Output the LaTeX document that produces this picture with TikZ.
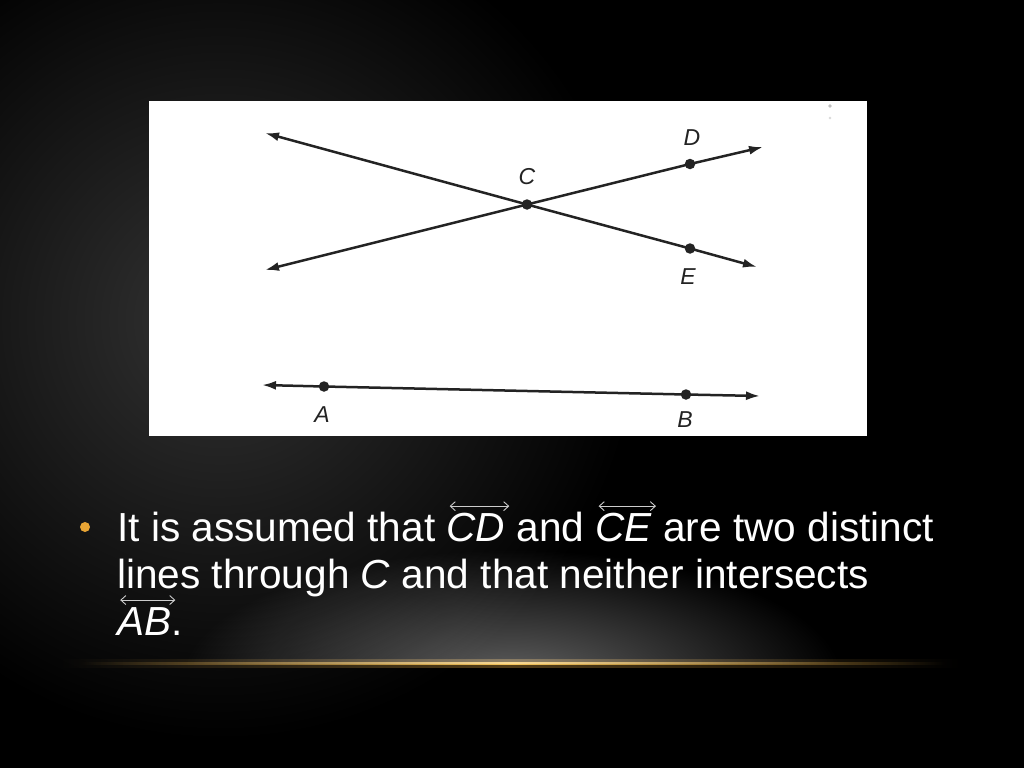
\documentclass[tikz,border=0pt]{standalone}
\usepackage{fontspec}
\setmainfont{Liberation Sans}
\usetikzlibrary{arrows.meta}
\definecolor{bulletorange}{RGB}{232,164,52}
\definecolor{lineorange}{RGB}{236,176,72}
\definecolor{inkgray}{RGB}{35,35,35}
\newcommand{\ovr}[1]{\tikz[baseline=(w.base),x=1cm,y=1cm]{\node[inner sep=0pt,outer sep=0pt,text=white] (w) {\itshape #1};\draw[overlay,{Straight Barb[length=5pt,width=9pt]}-{Straight Barb[length=5pt,width=9pt]}, line width=0.9pt, draw=white!80!black] ([xshift=3pt,yshift=7pt]w.north west) -- ([xshift=4pt,yshift=7pt]w.north east);}}
\begin{document}
\begin{tikzpicture}[x=1pt,y=-1pt,
  geoline/.style={line width=2.5pt, draw=inkgray, {Latex[length=14pt,width=9pt]}-{Latex[length=14pt,width=9pt]}},
  geopt/.style={circle, fill=inkgray, draw=none, inner sep=0pt, minimum size=10.5pt},
  lbl/.style={font=\fontsize{23}{23}\selectfont\itshape, text=inkgray, inner sep=0pt},
  bodytext/.style={font=\fontsize{40.6}{47}\selectfont, text=white, inner sep=0pt, anchor=base west},
]
\useasboundingbox (0,0) rectangle (1024,768);
% background
\fill[black] (0,0) rectangle (1024,768);
\begin{scope}[blend mode=screen]
  \shade[inner color=black!80!white, outer color=black] (220,320) circle (420);
  \begin{scope}
    \clip (0,0) rectangle (1024,663);
    \shade[inner color=black!62!white, outer color=black] (512,680) ellipse (330 and 130);
  \end{scope}
  % orange glow line
  \shade[left color=black, right color=black, middle color=lineorange!35!black] (60,659) rectangle (960,667);
  \shade[left color=black, right color=black, middle color=lineorange] (80,662) rectangle (945,664.5);
\end{scope}
% white panel
\fill[white] (149,101) rectangle (867,436);
\fill[black!25] (830,106) circle (1.8);
\fill[black!15] (830,118) circle (1.3);
% geometry
\coordinate (ce1) at (265,133);
\coordinate (ce2) at (757,267);
\coordinate (cd1) at (265,270);
\coordinate (cd2) at (763,147);
\coordinate (ab1) at (262,385);
\coordinate (ab2) at (760,396);
\node[geopt] (C) at (527,204.5) {};
\node[geopt] (D) at (690,164) {};
\node[geopt] (E) at (690,248.5) {};
\node[geopt] (A) at (324,386.5) {};
\node[geopt] (B) at (686,394.5) {};
\draw[geoline] (ce1) -- (C.center) -- (E.center) -- (ce2);
\draw[geoline] (cd1) -- (C.center) -- (D.center) -- (cd2);
\draw[geoline] (ab1) -- (A.center) -- (B.center) -- (ab2);
\node[lbl] (lC) at (527,177) {C};
\node[lbl] (lD) at (692,138) {D};
\node[lbl] (lE) at (688,277) {E};
\node[lbl] (lA) at (322,415) {A};
\node[lbl] (lB) at (685,420) {B};
% bullet text
\fill[bulletorange] (85,527) circle (5);
\node[bodytext] (t1) at (117,541.5) {It is assumed that \ovr{CD} and \ovr{CE} are two distinct};
\node[bodytext] (t2) at (117,588) {lines through \textit{C} and that neither intersects};
\node[bodytext] (t3) at (117,635) {\ovr{AB}.};
\end{tikzpicture}
\end{document}
